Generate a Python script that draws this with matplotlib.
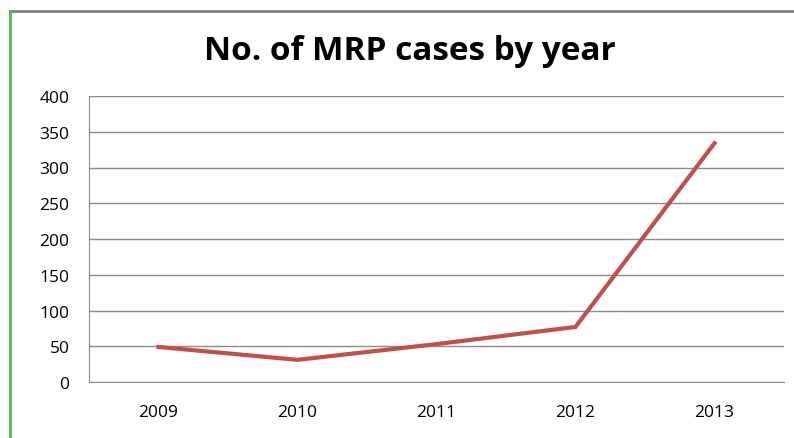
from matplotlib import pyplot as plt
from matplotlib.lines import Line2D

# data
years = ['2009', '2010', '2011', '2012', '2013']
cases = [49, 31, 53, 77, 334]
yticks = [0, 50, 100, 150, 200, 250, 300, 350, 400]

W, H = 794, 439
fig = plt.figure(figsize=(W / 100, H / 100), dpi=100)
ax = fig.add_axes([89 / W, 1 - 383 / H, (784 - 89) / W, (383 - 97) / H])

x = list(range(len(years)))
ax.plot(x, cases, color='#c0504d', linewidth=3, solid_joinstyle='miter')

ax.set_xlim(-0.5, len(years) - 0.5)
ax.set_ylim(0, 400)
ax.set_yticks(yticks)
ax.set_xticks(x)
ax.set_xticklabels(years)
ax.yaxis.grid(True, color='#8c8c8c', linewidth=1)
ax.set_axisbelow(True)
ax.tick_params(length=0, labelsize=12.5, colors='#000000')
ax.tick_params(axis='y', pad=14)
ax.tick_params(axis='x', pad=16)
for lab in ax.get_xticklabels() + ax.get_yticklabels():
    lab.set_family('Open Sans')
for s in ['top', 'right']:
    ax.spines[s].set_visible(False)
for s in ['left', 'bottom']:
    ax.spines[s].set_color('#8c8c8c')

fig.text(410 / W, 1 - 52 / H, 'No. of MRP cases by year', ha='center', va='center',
         fontsize=24, fontweight='bold', family='Open Sans')

# outer frame pieces visible in the reference
fig.add_artist(Line2D([10 / W, 1], [1 - 12 / H, 1 - 12 / H], color='#808080', linewidth=2))
fig.add_artist(Line2D([10 / W, 10 / W], [0, 1 - 12 / H], color='#4cbb4c', linewidth=2))

fig.savefig('out.png', dpi=100)
